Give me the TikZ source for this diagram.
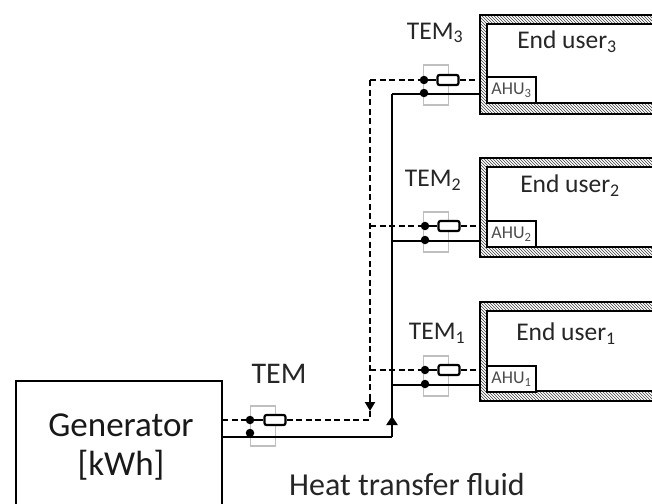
\documentclass[tikz,border=0pt]{standalone}
\usepackage{fontspec}
\setmainfont{Carlito}
\usetikzlibrary{patterns,arrows.meta}
\begin{document}
\begin{tikzpicture}[x=1pt, y=-1pt,
    pipe/.style = {line width=2.2pt, black},
    dashpipe/.style = {line width=2.4pt, black, dash pattern=on 6pt off 3.5pt},
    wall/.style = {draw, line width=2.2pt, pattern=north west lines, pattern color=black!75},
    room/.style = {draw, line width=2.2pt, fill=white},
    ahu/.style = {draw, line width=2pt, fill=white, inner sep=0pt, minimum width=49pt, minimum height=26pt, font=\fontsize{18}{18}\selectfont, text=black!70},
    tem/.style = {draw=black!25, line width=1.2pt, minimum width=25pt, minimum height=40pt, inner sep=0pt},
    valve/.style = {draw, line width=2.2pt, fill=white, rounded corners=2pt, minimum width=21pt, minimum height=10pt, inner sep=0pt},
    dot/.style = {circle, fill=black, minimum size=8.5pt, inner sep=0pt},
    txt/.style = {font=\fontsize{25.5}{25.5}\selectfont, text=black!85, inner sep=0pt}]

    \clip (0,0) rectangle (652,503);

    \draw[wall] (480,15) rectangle (670,114);
    \draw[room] (487,24) rectangle (670,103);
    \draw[wall] (480,158) rectangle (670,257);
    \draw[room] (487,167) rectangle (670,247);
    \draw[wall] (480,302) rectangle (670,401);
    \draw[room] (487,311) rectangle (670,391);

    \node[draw, line width=2.6pt, fill=white, minimum width=206pt, minimum height=140pt] (gen) at (119,451) {};
    \node[font=\fontsize{35}{35}\selectfont, text=black!90] (gentext) at (121,425) {Generator};
    \node[font=\fontsize{35}{35}\selectfont, text=black!90] (kwh) at (121,465) {[kWh]};

    \node[ahu] (ahu3) at (511.5,90) {AHU\textsubscript{3}};
    \node[ahu] (ahu2) at (511.5,234) {AHU\textsubscript{2}};
    \node[ahu] (ahu1) at (511.5,379) {AHU\textsubscript{1}};

    \node[txt] (user3) at (567,42) {End user\textsubscript{3}};
    \node[txt] (user2) at (570,186) {End user\textsubscript{2}};
    \node[txt] (user1) at (566,334) {End user\textsubscript{1}};
    \node[txt] (name3) at (435,33) {TEM\textsubscript{3}};
    \node[txt] (name2) at (433,180) {TEM\textsubscript{2}};
    \node[txt] (name1) at (437,333) {TEM\textsubscript{1}};
    \node[txt, font=\fontsize{30}{30}\selectfont] (name0) at (279,374) {TEM};
    \node[txt, font=\fontsize{32}{32}\selectfont] (fluid) at (407,484) {Heat transfer fluid};

    \node[tem] (box3) at (436,85) {};
    \node[tem] (box2) at (436,232) {};
    \node[tem] (box1) at (436,376) {};
    \node[tem] (box0) at (263,426) {};

    \coordinate (sup0) at (222,420);
    \coordinate (ret0) at (222,437);
    \coordinate (down) at (370,420);
    \coordinate (up) at (392,437);
    \coordinate (tip0) at (370,411);
    \coordinate (tail0) at (370,400);
    \coordinate (tip1) at (392,416);
    \coordinate (top0) at (370,80);
    \coordinate (top1) at (392,94);
    \coordinate (sup3) at (480,80);
    \coordinate (sup2) at (480,226);
    \coordinate (sup1) at (480,370);
    \coordinate (ret3) at (480,94);
    \coordinate (ret2) at (480,241);
    \coordinate (ret1) at (480,385);
    \coordinate (in2) at (370,226);
    \coordinate (in1) at (370,370);
    \coordinate (out2) at (392,241);
    \coordinate (out1) at (392,385);

    \draw[dashpipe] (top0) -- (tail0);
    \draw[dashpipe] (tip0) -- (down);
    \draw[pipe, -{Triangle[length=9pt,width=10pt]}] (tail0) -- (tip0);
    \draw[pipe] (up) -- (top1);
    \draw[pipe, -{Triangle[length=9pt,width=11pt]}] (up) -- (tip1);

    \node[dot] (a0) at (250,420) {};
    \node[dot] (b0) at (250,433) {};
    \node[valve] (v0) at (275,420) {};
    \draw[dashpipe] (sup0) -- (a0);
    \draw[pipe] (a0) -- (v0);
    \draw[dashpipe] (v0) -- (down);
    \draw[pipe] (ret0) -- (up);

    \node[dot] (a3) at (424,80) {};
    \node[dot] (b3) at (424,93) {};
    \node[valve] (v3) at (448,80) {};
    \draw[dashpipe] (top0) -- (a3);
    \draw[pipe] (a3) -- (v3);
    \draw[dashpipe] (v3) -- (sup3);
    \draw[pipe] (top1) -- (ret3);

    \node[dot] (a2) at (425,226) {};
    \node[dot] (b2) at (425,240) {};
    \node[valve] (v2) at (449,226) {};
    \draw[dashpipe] (in2) -- (a2);
    \draw[pipe] (a2) -- (v2);
    \draw[dashpipe] (v2) -- (sup2);
    \draw[pipe] (out2) -- (ret2);

    \node[dot] (a1) at (425,370) {};
    \node[dot] (b1) at (425,384) {};
    \node[valve] (v1) at (449,370) {};
    \draw[dashpipe] (in1) -- (a1);
    \draw[pipe] (a1) -- (v1);
    \draw[dashpipe] (v1) -- (sup1);
    \draw[pipe] (out1) -- (ret1);
\end{tikzpicture}
\end{document}
